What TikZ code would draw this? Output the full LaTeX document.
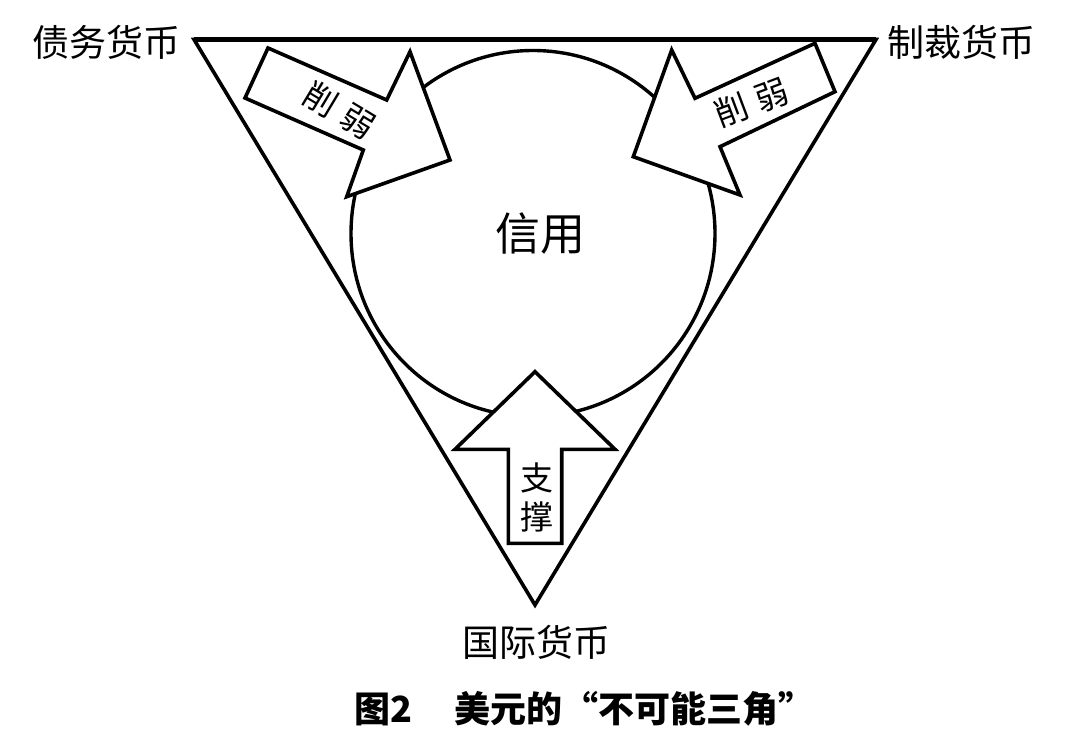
\documentclass[tikz,border=0pt]{standalone}
\usepackage{fontspec}
\usetikzlibrary{shapes.geometric}
\newfontfamily\cjk{Noto Sans CJK SC}
\begin{document}
\begin{tikzpicture}[x=1pt,y=-1pt,
  edge/.style={draw=black,line width=3.6pt,line join=miter},
  arrowshape/.style={draw=black,fill=white,line width=3.6pt,line join=miter},
  lbl/.style={font=\cjk\fontsize{37}{40}\selectfont,inner sep=0pt},
  small/.style={font=\cjk\fontsize{33}{36}\selectfont,inner sep=0pt}]
\useasboundingbox (0,0) rectangle (1080,754);
% circle
\node[draw=black,line width=3.4pt,ellipse,minimum width=364pt,minimum height=366pt,inner sep=0pt] (c) at (533,233.5) {};
% triangle
\coordinate (tl) at (194,39.5);
\coordinate (tr) at (876,39.5);
\coordinate (bt) at (535,605);
\draw[edge] (tl) -- (tr) -- (bt) -- cycle;
\draw[line width=4.6pt] (tl) -- (tr);
% left arrow
\draw[arrowshape] (268,48) -- (386.7,100) -- (410,51.7) -- (450,160) -- (346.7,196.7) -- (363.3,150) -- (245,98) -- cycle;
% right arrow
\draw[arrowshape] (815,43.3) -- (695,98.3) -- (671.7,50) -- (633.3,156.7) -- (740,195) -- (720,146.7) -- (835,91.7) -- cycle;
% bottom arrow
\draw[arrowshape] (535,371.7) -- (615,449.3) -- (561.7,449.3) -- (561.7,543.3) -- (508.3,543.3) -- (508.3,449.3) -- (455,449.3) -- cycle;
% texts
\node[lbl] (debt) at (106,42.5) {债务货币};
\node[lbl] (sanc) at (961,42.5) {制裁货币};
\node[lbl] (intl) at (536.5,642.5) {国际货币};
\node[font=\cjk\fontsize{45}{48}\selectfont,inner sep=0pt] (credit) at (540,234) {信用};
\node[small,rotate=-31] (w1a) at (321,99) {削};
\node[small,rotate=-31] (w1b) at (358,121.5) {弱};
\node[small,rotate=20.6] (w2a) at (732,110) {削};
\node[small,rotate=20.6] (w2b) at (771.5,95) {弱};
\node[small] (s1) at (536.7,478.3) {支};
\node[small] (s2) at (536.7,516.7) {撑};
\node[font=\cjk\bfseries\fontsize{36}{40}\selectfont,inner sep=0pt,anchor=west] (cap1) at (354,709) {图2};
\node[font=\cjk\bfseries\fontsize{36}{40}\selectfont,inner sep=0pt,anchor=west] (cap2) at (454,709) {美元的“不可能三角”};
\end{tikzpicture}
\end{document}
